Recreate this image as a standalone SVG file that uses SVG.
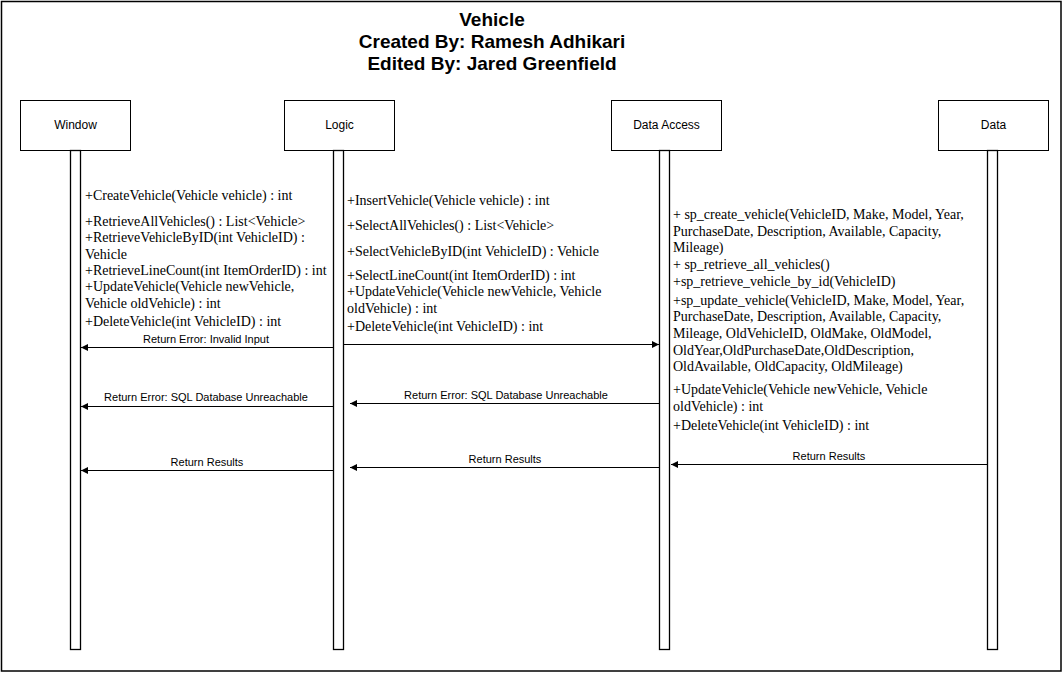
<svg xmlns="http://www.w3.org/2000/svg" width="1063" height="673" viewBox="0 0 1063 673">
<defs>
<marker id="arr" viewBox="0 0 10 10" refX="10" refY="5" markerWidth="10" markerHeight="7" markerUnits="userSpaceOnUse" orient="auto">
<path d="M0,0 L10,5 L0,10 z" fill="#000"/>
</marker>
<style>
.frame{fill:#fff;stroke:#000;stroke-width:1.5}
.box{fill:#fff;stroke:#000;stroke-width:1}
.life{fill:#fff;stroke:#000;stroke-width:1.3}
.title{font-family:"Liberation Sans",Arial,sans-serif;font-weight:bold;font-size:19px;text-anchor:middle}
.hdr{font-family:"Liberation Sans",Arial,sans-serif;font-size:12px;text-anchor:middle}
.m{font-family:"Liberation Serif","Times New Roman",serif;font-size:14px}
.lbl{font-family:"Liberation Sans",Arial,sans-serif;font-size:11px;text-anchor:middle}
.msg{stroke:#000;stroke-width:1;fill:none;marker-end:url(#arr)}
</style>
</defs>
<rect x="0" y="0" width="1063" height="673" fill="#fff"/>
<rect class="frame" x="1.5" y="1.5" width="1059.5" height="669.5"/>
<g id="title">
<text class="title" x="492" y="26">Vehicle</text>
<text class="title" x="492" y="48">Created By: Ramesh Adhikari</text>
<text class="title" x="492" y="70">Edited By: Jared Greenfield</text>
</g>
<g id="window">
<rect class="box" x="20.5" y="100.5" width="110" height="50"/>
<text class="hdr" x="75.5" y="129">Window</text>
<rect class="life" x="70.5" y="150.5" width="10" height="499"/>
</g>
<g id="logic">
<rect class="box" x="284.5" y="100.5" width="110" height="50"/>
<text class="hdr" x="339.5" y="129">Logic</text>
<rect class="life" x="333.5" y="150.5" width="10" height="499"/>
</g>
<g id="data-access">
<rect class="box" x="611.5" y="100.5" width="110" height="50"/>
<text class="hdr" x="666.5" y="129">Data Access</text>
<rect class="life" x="659.5" y="150.5" width="10" height="499"/>
</g>
<g id="data">
<rect class="box" x="938.5" y="100.5" width="110" height="50"/>
<text class="hdr" x="993.5" y="129">Data</text>
<rect class="life" x="987.5" y="150.5" width="10" height="499"/>
</g>
<g id="window-methods" class="m">
<text x="85" y="200">+CreateVehicle(Vehicle vehicle) : int</text>
<text x="85" y="226">+RetrieveAllVehicles() : List&lt;Vehicle&gt;</text>
<text x="85" y="242">+RetrieveVehicleByID(int VehicleID) :</text>
<text x="85" y="259">Vehicle</text>
<text x="85" y="275">+RetrieveLineCount(int ItemOrderID) : int</text>
<text x="85" y="291">+UpdateVehicle(Vehicle newVehicle,</text>
<text x="85" y="308">Vehicle oldVehicle) : int</text>
<text x="85" y="326">+DeleteVehicle(int VehicleID) : int</text>
</g>
<g id="logic-methods" class="m">
<text x="347" y="205">+InsertVehicle(Vehicle vehicle) : int</text>
<text x="347" y="230">+SelectAllVehicles() : List&lt;Vehicle&gt;</text>
<text x="347" y="256">+SelectVehicleByID(int VehicleID) : Vehicle</text>
<text x="347" y="280">+SelectLineCount(int ItemOrderID) : int</text>
<text x="347" y="296">+UpdateVehicle(Vehicle newVehicle, Vehicle</text>
<text x="347" y="313">oldVehicle) : int</text>
<text x="347" y="331">+DeleteVehicle(int VehicleID) : int</text>
</g>
<g id="data-access-methods" class="m">
<text x="673" y="219">+ sp_create_vehicle(VehicleID, Make, Model, Year,</text>
<text x="673" y="236">PurchaseDate, Description, Available, Capacity,</text>
<text x="673" y="252">Mileage)</text>
<text x="673" y="269">+ sp_retrieve_all_vehicles()</text>
<text x="673" y="286">+sp_retrieve_vehicle_by_id(VehicleID)</text>
<text x="673" y="305">+sp_update_vehicle(VehicleID, Make, Model, Year,</text>
<text x="673" y="321">PurchaseDate, Description, Available, Capacity,</text>
<text x="673" y="338">Mileage, OldVehicleID, OldMake, OldModel,</text>
<text x="673" y="355">OldYear,OldPurchaseDate,OldDescription,</text>
<text x="673" y="371">OldAvailable, OldCapacity, OldMileage)</text>
<text x="673" y="394">+UpdateVehicle(Vehicle newVehicle, Vehicle</text>
<text x="673" y="411">oldVehicle) : int</text>
<text x="673" y="430">+DeleteVehicle(int VehicleID) : int</text>
</g>
<g id="connectors">
<line class="msg" x1="333" y1="347.5" x2="81" y2="347.5"/>
<text class="lbl" x="206" y="343">Return Error: Invalid Input</text>
<line class="msg" x1="344" y1="344.5" x2="659" y2="344.5"/>
<line class="msg" x1="333" y1="406.5" x2="81" y2="406.5"/>
<text class="lbl" x="206" y="401">Return Error: SQL Database Unreachable</text>
<line class="msg" x1="659" y1="403.5" x2="350" y2="403.5"/>
<text class="lbl" x="506" y="399">Return Error: SQL Database Unreachable</text>
<line class="msg" x1="333" y1="470.5" x2="81" y2="470.5"/>
<text class="lbl" x="207" y="466">Return Results</text>
<line class="msg" x1="659" y1="467.5" x2="350" y2="467.5"/>
<text class="lbl" x="505" y="463">Return Results</text>
<line class="msg" x1="987" y1="464.5" x2="671" y2="464.5"/>
<text class="lbl" x="829" y="460">Return Results</text>
</g>
</svg>
